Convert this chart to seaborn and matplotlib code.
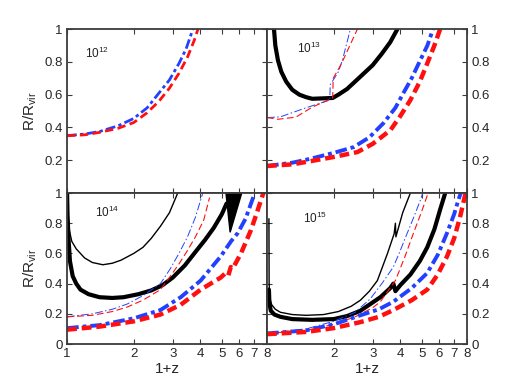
import matplotlib
matplotlib.use("Agg")
import matplotlib.pyplot as plt
import seaborn as sns

# ---- data (x = 1+z, y = R/Rvir) ----
# 10^12
m12_blue_x = [1.0, 1.2, 1.4, 1.7, 2.0, 2.3, 2.6, 2.9, 3.2, 3.45, 3.7]
m12_blue_y = [0.35, 0.36, 0.375, 0.41, 0.455, 0.52, 0.61, 0.69, 0.79, 0.88, 1.0]
m12_red_x = [1.0, 1.2, 1.4, 1.7, 2.0, 2.3, 2.6, 2.9, 3.2, 3.5, 3.75, 3.9]
m12_red_y = [0.35, 0.355, 0.37, 0.395, 0.43, 0.49, 0.56, 0.64, 0.73, 0.83, 0.93, 1.0]

# 10^13
m13_bk_thick_x = [1.075, 1.09, 1.12, 1.16, 1.22, 1.3, 1.4, 1.5, 1.6, 1.98, 2.1, 2.3, 2.64, 3.0, 3.3, 3.6, 3.88]
m13_bk_thick_y = [1.0, 0.9, 0.81, 0.74, 0.68, 0.63, 0.60, 0.585, 0.575, 0.58, 0.60, 0.635, 0.71, 0.78, 0.85, 0.92, 1.0]
m13_blue_thin_x = [1.0, 1.15, 1.5, 1.92, 1.93, 2.1, 2.19, 2.38]
m13_blue_thin_y = [0.46, 0.465, 0.52, 0.567, 0.66, 0.74, 0.81, 1.0]
m13_red_thin_x = [1.0, 1.07, 1.12, 1.35, 1.6, 1.98, 1.99, 2.17, 2.56]
m13_red_thin_y = [0.46, 0.455, 0.45, 0.463, 0.524, 0.58, 0.70, 0.79, 1.0]
m13_blue_thick_x = [1.0, 1.3, 1.58, 2.0, 2.46, 2.9, 3.36, 3.8, 4.13, 4.5, 4.92, 5.3, 5.62]
m13_blue_thick_y = [0.165, 0.185, 0.21, 0.245, 0.28, 0.34, 0.427, 0.52, 0.61, 0.70, 0.81, 0.9, 1.0]
m13_red_thick_x = [1.0, 1.3, 1.58, 2.0, 2.56, 3.0, 3.61, 4.0, 4.44, 4.9, 5.29, 5.7, 6.05]
m13_red_thick_y = [0.165, 0.175, 0.195, 0.22, 0.25, 0.3, 0.384, 0.47, 0.567, 0.68, 0.79, 0.9, 1.0]

# 10^14
m14_bk_thin_x = [1.0, 1.01, 1.025, 1.05, 1.1, 1.2, 1.3, 1.45, 1.6, 1.75, 2.0, 2.2, 2.4, 2.64, 2.9, 3.16]
m14_bk_thin_y = [1.0, 0.86, 0.75, 0.68, 0.63, 0.57, 0.54, 0.525, 0.535, 0.555, 0.60, 0.64, 0.70, 0.78, 0.87, 1.0]
m14_bk_thick_x = [1.0, 1.005, 1.015, 1.03, 1.06, 1.1, 1.15, 1.25, 1.4, 1.6, 1.8, 2.1, 2.4, 2.7, 3.0,
                  3.4, 3.8, 4.2, 4.6, 5.0, 5.25]
m14_bk_thick_y = [1.0, 0.85, 0.7, 0.55, 0.45, 0.40, 0.36, 0.33, 0.31, 0.305, 0.31, 0.33, 0.355, 0.39, 0.44,
                  0.52, 0.61, 0.69, 0.77, 0.86, 0.93]
m14_wedge_x = [5.22, 5.45, 6.15]
m14_wedge_y = [1.0, 0.74, 1.0]
m14_blue_thin_x = [1.0, 1.3, 1.6, 1.87, 2.2, 2.64, 2.93, 3.2, 3.5, 3.8, 4.1]
m14_blue_thin_y = [0.18, 0.2, 0.23, 0.265, 0.32, 0.40, 0.50, 0.60, 0.71, 0.84, 1.0]
m14_red_thin_x = [1.0, 1.3, 1.6, 1.87, 2.2, 2.64, 2.93, 3.2, 3.5, 3.8, 4.14, 4.4]
m14_red_thin_y = [0.18, 0.19, 0.215, 0.245, 0.29, 0.36, 0.45, 0.53, 0.62, 0.71, 0.82, 0.97]
m14_blue_thick_x = [1.0, 1.4, 2.0, 2.64, 3.26, 4.01, 4.94, 5.5, 5.9, 6.4, 6.77, 7.0]
m14_blue_thick_y = [0.105, 0.125, 0.17, 0.225, 0.31, 0.42, 0.58, 0.68, 0.735, 0.83, 0.93, 0.99]
m14_red_thick_x = [1.0, 1.4, 2.0, 2.64, 3.26, 4.01, 4.94, 5.2, 5.35, 5.49, 5.6, 6.1, 6.77, 7.2, 7.5, 7.7]
m14_red_thick_y = [0.095, 0.115, 0.15, 0.195, 0.26, 0.36, 0.44, 0.47, 0.455, 0.51, 0.5, 0.60, 0.755, 0.87, 0.95, 1.0]

# 10^15
m15_bk_thin_x = [1.02, 1.022, 1.03, 1.05, 1.09, 1.15, 1.3, 1.5, 1.8, 2.1, 2.4, 2.64, 2.9, 3.15, 3.5, 3.75,
                 3.8, 3.82, 4.1, 4.44]
m15_bk_thin_y = [0.83, 0.40, 0.30, 0.26, 0.23, 0.21, 0.195, 0.19, 0.195, 0.215, 0.25, 0.29, 0.35, 0.42, 0.6, 0.73,
                 0.8, 0.71, 0.87, 1.0]
m15_bk_thick_x = [1.02, 1.025, 1.04, 1.08, 1.15, 1.3, 1.6, 2.0, 2.3, 2.64, 3.25, 3.6, 3.72, 3.8, 4.0, 4.44,
                  4.9, 5.29, 5.7, 6.05, 6.38]
m15_bk_thick_y = [0.36, 0.27, 0.22, 0.195, 0.18, 0.165, 0.16, 0.165, 0.185, 0.22, 0.31, 0.37, 0.40, 0.35, 0.39, 0.46,
                  0.55, 0.64, 0.76, 0.89, 1.0]
m15_blue_thin_x = [1.0, 1.5, 2.0, 2.5, 2.93, 3.3, 3.72, 4.0, 4.3, 4.6, 4.92, 5.05]
m15_blue_thin_y = [0.07, 0.1, 0.15, 0.21, 0.30, 0.40, 0.51, 0.62, 0.735, 0.84, 0.95, 1.0]
m15_red_thin_x = [1.0, 1.5, 2.0, 2.5, 3.0, 3.25, 3.8, 4.2, 4.6, 5.0, 5.34]
m15_red_thin_y = [0.07, 0.09, 0.13, 0.18, 0.24, 0.28, 0.42, 0.58, 0.74, 0.88, 1.0]
m15_blue_thick_x = [1.0, 1.5, 2.0, 2.64, 3.2, 3.72, 4.5, 5.29, 5.9, 6.5, 7.0, 7.3, 7.5]
m15_blue_thick_y = [0.07, 0.09, 0.13, 0.19, 0.23, 0.28, 0.37, 0.47, 0.59, 0.735, 0.86, 0.95, 1.0]
m15_red_thick_x = [1.0, 1.5, 2.0, 2.64, 3.2, 3.72, 4.5, 5.29, 5.9, 6.5, 7.0, 7.44, 7.8, 7.9]
m15_red_thick_y = [0.065, 0.08, 0.105, 0.145, 0.18, 0.225, 0.29, 0.36, 0.46, 0.58, 0.70, 0.84, 0.97, 1.0]

panel_labels = ["12", "13", "14", "15"]
x_ticks = [1, 2, 3, 4, 5, 6, 7, 8]

BLUE = "#2440ff"
RED = "#ff1010"
FRAME = "#3c3c3c"

sns.set_theme(style="white")
plt.rcParams["font.family"] = ["Liberation Sans", "DejaVu Sans"]
plt.rcParams["mathtext.default"] = "regular"

fig = plt.figure(figsize=(5.16, 3.88), dpi=100)
gs = fig.add_gridspec(2, 2, left=0.13, right=0.905, top=0.925, bottom=0.1134,
                      hspace=0, wspace=0, height_ratios=[164, 151])
axes = [[fig.add_subplot(gs[r, c]) for c in range(2)] for r in range(2)]


def line(ax, x, y, color, lw, ls="-"):
    sns.lineplot(x=x, y=y, ax=ax, color=color, lw=lw, linestyle=ls,
                 sort=False, estimator=None)


thick_red = (0, (2.2, 1.1))
thick_blue = (0, (3.0, 1.0, 1.0, 1.0))
thin_red = (0, (6, 3))
thin_blue = (0, (8, 2.5, 1.5, 2.5))

# 10^12
ax = axes[0][0]
line(ax, m12_blue_x, m12_blue_y, BLUE, 2.0, (0, (3.5, 1.2, 1.2, 1.2)))
line(ax, m12_red_x, m12_red_y, RED, 2.0, (0, (3.0, 1.6)))

# 10^13
ax = axes[0][1]
line(ax, m13_bk_thick_x, m13_bk_thick_y, "black", 3.0)
line(ax, m13_blue_thin_x, m13_blue_thin_y, BLUE, 0.7, thin_blue)
line(ax, m13_red_thin_x, m13_red_thin_y, RED, 0.8, thin_red)
line(ax, m13_blue_thick_x, m13_blue_thick_y, BLUE, 2.8, thick_blue)
line(ax, m13_red_thick_x, m13_red_thick_y, RED, 3.2, thick_red)

# 10^14
ax = axes[1][0]
line(ax, m14_bk_thin_x, m14_bk_thin_y, "black", 1.0)
line(ax, m14_bk_thick_x, m14_bk_thick_y, "black", 3.0)
ax.fill(m14_wedge_x, m14_wedge_y, color="black", lw=1.0)
line(ax, m14_blue_thin_x, m14_blue_thin_y, BLUE, 0.7, thin_blue)
line(ax, m14_red_thin_x, m14_red_thin_y, RED, 0.8, thin_red)
line(ax, m14_blue_thick_x, m14_blue_thick_y, BLUE, 2.8, thick_blue)
line(ax, m14_red_thick_x, m14_red_thick_y, RED, 3.2, thick_red)

# 10^15
ax = axes[1][1]
line(ax, m15_bk_thin_x, m15_bk_thin_y, "black", 1.0)
line(ax, m15_bk_thick_x, m15_bk_thick_y, "black", 3.0)
line(ax, m15_blue_thin_x, m15_blue_thin_y, BLUE, 0.7, thin_blue)
line(ax, m15_red_thin_x, m15_red_thin_y, RED, 0.8, thin_red)
line(ax, m15_blue_thick_x, m15_blue_thick_y, BLUE, 2.8, thick_blue)
line(ax, m15_red_thick_x, m15_red_thick_y, RED, 3.2, thick_red)

label_pos = [(0.09, 0.85), (0.15, 0.88), (0.14, 0.87), (0.18, 0.83)]
for i, ax in enumerate([axes[0][0], axes[0][1], axes[1][0], axes[1][1]]):
    r, c = divmod(i, 2)
    ax.set_xscale("log")
    ax.set_xlim(1, 8)
    ax.set_ylim(0, 1)
    ax.minorticks_off()
    if c == 0:
        ax.set_xticks(x_ticks)
        ax.set_xticklabels([str(t) for t in x_ticks])
    else:
        ax.set_xticks(x_ticks[1:])
        ax.set_xticklabels([str(t) for t in x_ticks[1:]])
    yt = [0.2, 0.4, 0.6, 0.8, 1.0] if r == 0 else [0, 0.2, 0.4, 0.6, 0.8, 1.0]
    ax.set_yticks(yt)
    ax.set_yticklabels(["0" if v == 0 else ("1" if v == 1 else f"{v:.1f}") for v in yt])
    ax.tick_params(direction="in", length=3.5, width=0.8, color=FRAME,
                   labelsize=9.5, pad=3, top=True, right=True, left=True, bottom=True,
                   labelbottom=(r == 1), labelleft=(c == 0), labelright=(c == 1))
    for s in ax.spines.values():
        s.set_color(FRAME)
        s.set_linewidth(1.3)
        s.set_visible(True)
    ax.set_xlabel("1+z" if r == 1 else "", fontsize=11, labelpad=1)
    ax.set_ylabel("R/R$_{vir}$" if c == 0 else "", fontsize=11, labelpad=4)
    lx, ly = label_pos[i]
    ax.text(lx, ly, "10$^{%s}$" % panel_labels[i], transform=ax.transAxes,
            fontsize=8.5, ha="left", va="center", color="#222222")

fig.savefig("out.png", dpi=100)
